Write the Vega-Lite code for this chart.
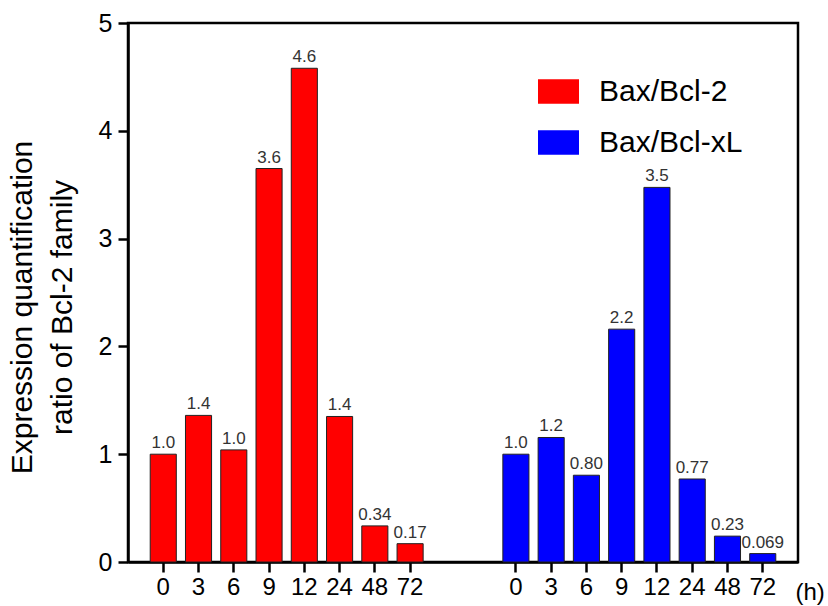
{
  "$schema": "https://vega.github.io/schema/vega-lite/v6.json",
  "autosize": {"type": "none"},
  "padding": {"left": 128, "top": 23, "right": 30, "bottom": 44},
  "width": 670,
  "height": 539,
  "config": {
    "font": "Liberation Sans",
    "view": {"stroke": "black", "strokeWidth": 2.5}
  },
  "data": {
    "values": [
      {"series": "Bax/Bcl-2", "key": "A0", "value": 1.0, "label": "1.0"},
      {"series": "Bax/Bcl-2", "key": "A3", "value": 1.36, "label": "1.4"},
      {"series": "Bax/Bcl-2", "key": "A6", "value": 1.04, "label": "1.0"},
      {"series": "Bax/Bcl-2", "key": "A9", "value": 3.65, "label": "3.6"},
      {"series": "Bax/Bcl-2", "key": "A12", "value": 4.58, "label": "4.6"},
      {"series": "Bax/Bcl-2", "key": "A24", "value": 1.35, "label": "1.4"},
      {"series": "Bax/Bcl-2", "key": "A48", "value": 0.335, "label": "0.34"},
      {"series": "Bax/Bcl-2", "key": "A72", "value": 0.17, "label": "0.17"},
      {"series": "Bax/Bcl-xL", "key": "B0", "value": 1.0, "label": "1.0"},
      {"series": "Bax/Bcl-xL", "key": "B3", "value": 1.155, "label": "1.2"},
      {"series": "Bax/Bcl-xL", "key": "B6", "value": 0.805, "label": "0.80"},
      {"series": "Bax/Bcl-xL", "key": "B9", "value": 2.16, "label": "2.2"},
      {"series": "Bax/Bcl-xL", "key": "B12", "value": 3.475, "label": "3.5"},
      {"series": "Bax/Bcl-xL", "key": "B24", "value": 0.77, "label": "0.77"},
      {"series": "Bax/Bcl-xL", "key": "B48", "value": 0.24, "label": "0.23"},
      {"series": "Bax/Bcl-xL", "key": "B72", "value": 0.078, "label": "0.069"}
    ]
  },
  "encoding": {
    "x": {
      "field": "key",
      "type": "nominal",
      "sort": null,
      "scale": {
        "domain": ["A0","A3","A6","A9","A12","A24","A48","A72","G1","G2","B0","B3","B6","B9","B12","B24","B48","B72"],
        "paddingInner": 0.26,
        "paddingOuter": 0.63
      },
      "axis": {
        "values": ["A0","A3","A6","A9","A12","A24","A48","A72","B0","B3","B6","B9","B12","B24","B48","B72"],
        "labelExpr": "substring(datum.value, 1)",
        "labelAngle": 0,
        "labelFontSize": 24,
        "labelColor": "black",
        "labelPadding": 3,
        "tickSize": 10,
        "tickWidth": 2.5,
        "tickColor": "black",
        "domainColor": "black",
        "domainWidth": 2.5,
        "title": "(h)",
        "titleFontSize": 24,
        "titleFontWeight": "normal",
        "titleColor": "black",
        "titleAnchor": "start",
        "titleAlign": "left",
        "titleBaseline": "middle",
        "titleX": 667,
        "titleY": 30
      }
    },
    "y": {
      "field": "value",
      "type": "quantitative",
      "scale": {"domain": [0, 5], "nice": false},
      "axis": {
        "values": [0, 1, 2, 3, 4, 5],
        "format": "d",
        "grid": false,
        "labelFontSize": 25,
        "labelColor": "black",
        "labelPadding": 6,
        "tickSize": 10,
        "tickWidth": 2.5,
        "tickColor": "black",
        "domainColor": "black",
        "domainWidth": 2.5,
        "title": ["Expression quantification", "ratio of Bcl-2 family"],
        "titleFontSize": 30,
        "titleFontWeight": "normal",
        "titleColor": "black",
        "titleLineHeight": 40,
        "titleBaseline": "bottom",
        "titleAngle": -90,
        "titleX": -91,
        "titleY": 284
      }
    }
  },
  "layer": [
    {
      "mark": {"type": "bar", "stroke": "#222", "strokeWidth": 1},
      "encoding": {
        "color": {
          "field": "series",
          "type": "nominal",
          "scale": {"domain": ["Bax/Bcl-2", "Bax/Bcl-xL"], "range": ["#ff0000", "#0000ff"]},
          "legend": {
            "orient": "none",
            "legendX": 410,
            "legendY": 48,
            "title": null,
            "symbolType": "M-1,-0.6H1V0.6H-1Z",
            "symbolSize": 1681,
            "symbolStrokeWidth": 0,
            "symbolOpacity": 1,
            "labelFontSize": 30,
            "labelColor": "black",
            "labelOffset": 20,
            "rowPadding": 15
          }
        }
      }
    },
    {
      "mark": {"type": "text", "baseline": "bottom", "dy": -2, "fontSize": 17, "fill": "#333"},
      "encoding": {"text": {"field": "label"}}
    }
  ]
}
